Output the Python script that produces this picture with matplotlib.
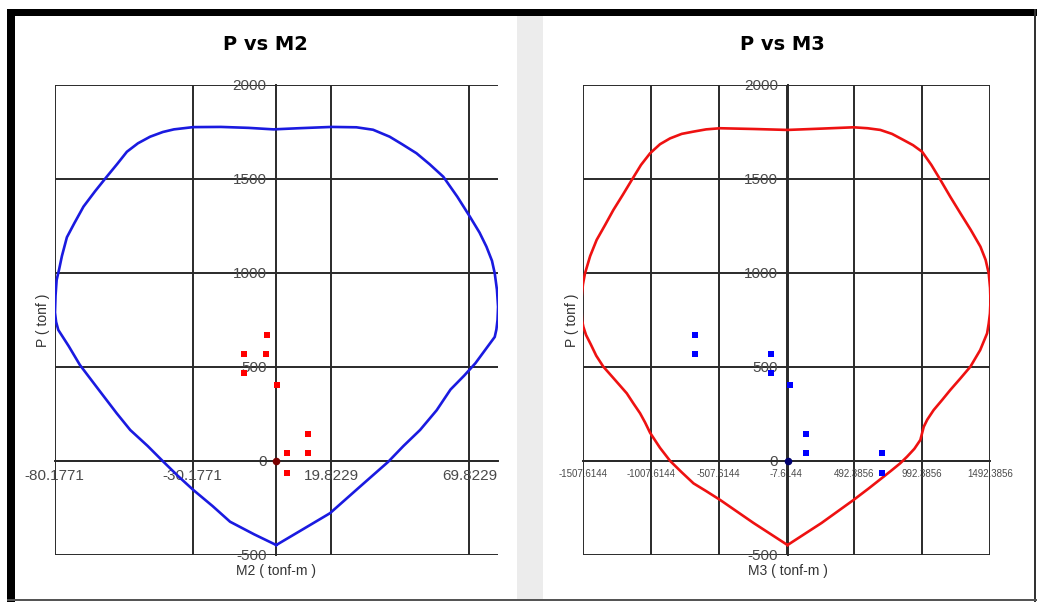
import matplotlib.pyplot as plt
from matplotlib.patches import Rectangle

# interaction envelope, P vs M2 (left panel)
m2_curve = [0, -8, -16.7, -23, -30, -35.5, -40.8, -46.5, -52.8, -57.7, -64.5, -71, -75,
            -78.8, -79.6, -80, -79.8, -79.4, -78.5, -77.5, -75.7, -73, -69.7, -65.5,
            -61.3, -57.5, -54, -50, -45.6, -41, -37, -30, -20, -10, -1, 8, 20, 29,
            35, 41, 45.5, 50.7, 55.5, 60.4, 65.5, 70, 73.5, 76, 78, 79, 79.8, 80.2,
            80, 79.6, 79, 76, 72, 68, 63, 58, 52, 46, 40.5, 30, 19.4, 10, 0]
p2_curve = [-447, -390, -323, -240, -154, -80, -4, 80, 165, 254, 385, 511, 610,
            697, 740, 790, 880, 963, 1020, 1090, 1190, 1265, 1353, 1435,
            1512, 1580, 1645, 1690, 1725, 1750, 1764, 1776, 1777, 1772, 1764, 1770, 1777, 1775,
            1762, 1725, 1685, 1637, 1578, 1512, 1405, 1300, 1215, 1140, 1065, 998, 910, 820,
            750, 700, 660, 600, 520, 455, 380, 270, 165, 80, -4, -140, -278, -360, -447]

# interaction envelope, P vs M3 (right panel)
m3_curve = [0, -250, -497, -600, -693, -780, -865, -940, -1013, -1050, -1087, -1135,
            -1185, -1270, -1358, -1410, -1450, -1485, -1505, -1515, -1517, -1519, -1517,
            -1508, -1493, -1455, -1407, -1345, -1284, -1215, -1148, -1080, -1013, -940,
            -866, -780, -694, -600, -497, -250, 0, 250, 487, 590, 684, 770, 856, 925,
            992, 1060, 1127, 1200, 1274, 1350, 1422, 1460, 1483, 1493, 1496, 1492, 1483,
            1471, 1420, 1348, 1275, 1200, 1140, 1077, 1030, 1004, 979, 935, 881, 831,
            770, 709, 600, 487, 250, 0]
p3_curve = [-447, -330, -207, -160, -119, -60, 0, 70, 150, 205, 254, 305,
            360, 430, 502, 560, 620, 670, 714, 750, 785, 830, 874,
            940, 998, 1090, 1176, 1255, 1335, 1415, 1495, 1575, 1637, 1685,
            1716, 1740, 1752, 1764, 1770, 1766, 1761, 1768, 1775, 1770, 1761, 1740, 1707, 1680,
            1645, 1575, 1495, 1405, 1318, 1230, 1140, 1070, 998, 920, 850, 785, 732,
            679, 590, 502, 440, 378, 325, 271, 220, 182, 112, 65, 23, -12,
            -48, -83, -145, -207, -330, -447]

# load points
p_pts = [670, 569, 569, 466, 404, 142, 41, 41, -62]
m2_pts = [-3.5, -3.7, -11.7, -11.7, 0.1, 11.6, 11.6, 3.8, 3.8]
m3_pts = [-681, -681, -120, -120, 15, 136, 136, 697, 697]

p_ticks = [-500, 0, 500, 1000, 1500, 2000]
m2_ticks = [-80.1771, -30.1771, 19.8229, 69.8229]
m3_ticks = [-1507.6144, -1007.6144, -507.6144, -7.6144, 492.3856, 992.3856, 1492.3856]

W, H = 1037, 602
fig = plt.figure(figsize=(W / 100, H / 100), dpi=100)
fig.patch.set_facecolor('white')


def box(x0, y0, x1, y1, color):
    # pixel box (top-left origin) drawn on the figure
    fig.add_artist(Rectangle((x0 / W, 1 - y1 / H), (x1 - x0) / W, (y1 - y0) / H,
                             transform=fig.transFigure, color=color, lw=0, zorder=0))


box(517, 16, 543, 599, '#ececec')
box(7, 9, 1037, 16, 'black')
box(7, 9, 15, 602, 'black')
box(1034, 9, 1036, 602, '#333333')
box(7, 599, 1037, 601, '#555555')

ax1 = fig.add_axes([54.5 / W, 1 - 555 / H, (498 - 54.5) / W, 470 / H])
ax2 = fig.add_axes([583 / W, 1 - 555 / H, (990 - 583) / W, 470 / H])

grid_c = '#2a2a2a'
text_c = '#4a4a4a'
lab_font = 'Liberation Sans'

panels = [
    (ax1, m2_curve, p2_curve, m2_pts, m2_ticks, '#1a1ae0', 'red', '#7a0000',
     'P vs M2', 'M2 ( tonf-m )', (-80.1771, 80.1771), 11, 265),
    (ax2, m3_curve, p3_curve, m3_pts, m3_ticks, '#ee1111', 'blue', '#000070',
     'P vs M3', 'M3 ( tonf-m )', (-1507.6144, 1492.3856), 7, 782),
]

for ax, mc, pc, mp, mt, lc, pcol, ocol, title, xlab, xlim, xfs, tx in panels:
    ax.set_facecolor('white')
    ax.plot(mc, pc, color=lc, lw=1.9, zorder=4)
    ax.scatter(mp, p_pts, marker='s', s=22, color=pcol, zorder=5, linewidths=0)
    ax.scatter([0], [0], marker='o', s=30, color=ocol, zorder=6, linewidths=0)
    ax.set_xlim(*xlim)
    ax.set_ylim(-500, 2000)
    ax.set_xticks(mt, [f'{v:.4f}' for v in mt])
    ax.set_yticks(p_ticks, [str(v) for v in p_ticks])
    ax.grid(True, color=grid_c, lw=1.4)
    for gl in ax.get_xgridlines() + ax.get_ygridlines():
        gl.set_clip_on(False)
    for s in ['top', 'right']:
        ax.spines[s].set_visible(False)
    ax.spines['left'].set_position(('data', 0))
    ax.spines['bottom'].set_position(('data', 0))
    for s in ['left', 'bottom']:
        ax.spines[s].set_color(grid_c)
        ax.spines[s].set_linewidth(1.4)
    ax.tick_params(axis='x', length=0, pad=6, labelsize=xfs, labelcolor=text_c)
    ax.tick_params(axis='y', length=0, pad=7, labelsize=11, labelcolor=text_c)
    for t in ax.get_xticklabels() + ax.get_yticklabels():
        t.set_family(lab_font)
    ax.set_axisbelow(True)
    ax.text(-0.026, 0.5, 'P ( tonf )', rotation=90, transform=ax.transAxes,
            ha='center', va='center', fontsize=10, color='#333333', family=lab_font)
    ax.text(0, -0.034, xlab, transform=ax.get_xaxis_transform(),
            ha='center', va='center', fontsize=10, color='#333333', family=lab_font)
    fig.text(tx / W, 1 - 45 / H, title, ha='center', va='center',
             fontsize=14, fontweight='heavy', color='black')

fig.savefig('out.png', dpi=100, facecolor='white')
